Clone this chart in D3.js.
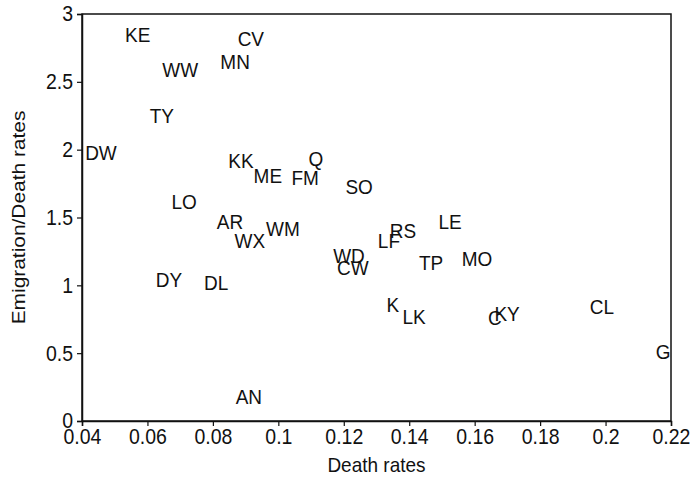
<!DOCTYPE html>
<html>
<head>
<meta charset="utf-8">
<script src="https://cdn.jsdelivr.net/npm/d3@7"></script>
<style>
  body { margin: 0; background: #fff; }
  svg text { font-family: "Liberation Sans", Arial, Helvetica, sans-serif; fill: #111; }
</style>
</head>
<body>
<script>
// labels and values
let labels = ["KE", "CV", "MN", "WW", "TY", "DW", "KK", "ME", "FM", "Q", "SO", "LO",
    "AR", "WX", "WM", "LE", "RS", "LF", "WD", "CW", "TP", "MO", "DY", "DL",
    "K", "LK", "C", "KY", "CL", "G", "AN"];
let deathRates = [0.057, 0.0916, 0.0868, 0.070, 0.0644, 0.0458, 0.0886, 0.0968, 0.1082, 0.1115, 0.1247, 0.0712,
    0.0852, 0.0913, 0.1014, 0.1525, 0.1381, 0.1338, 0.1216, 0.1228, 0.1467, 0.1607, 0.0666, 0.0810,
    0.1350, 0.1415, 0.1662, 0.1699, 0.1989, 0.2176, 0.0910];
let emigrationRatio = [2.85, 2.82, 2.65, 2.59, 2.25, 1.98, 1.92, 1.81, 1.79, 1.93, 1.73, 1.62,
    1.47, 1.33, 1.42, 1.47, 1.40, 1.33, 1.22, 1.13, 1.17, 1.20, 1.04, 1.02,
    0.86, 0.77, 0.76, 0.79, 0.84, 0.51, 0.18];
let xTicks = [0.04, 0.06, 0.08, 0.1, 0.12, 0.14, 0.16, 0.18, 0.2, 0.22];
let yTicks = [0, 0.5, 1, 1.5, 2, 2.5, 3];

let width = 691,
    height = 479,
    margins = {top: 14, right: 20, bottom: 58, left: 82},
    stretch = "scale(1, 1.1)"; // the scanned text is a little taller than wide

let data = labels.map((l, i) => ({label: l, x: deathRates[i], y: emigrationRatio[i]}));

let xScale = d3.scaleLinear([0.04, 0.22], [margins.left, width - margins.right]);
let yScale = d3.scaleLinear([0, 3], [height - margins.bottom, margins.top]);

let chart = d3.select("body").append("svg")
    .attr("width", width)
    .attr("height", height);

// frame
chart.append("rect")
    .attr("x", xScale(0.04))
    .attr("y", yScale(3))
    .attr("width", xScale(0.22) - xScale(0.04))
    .attr("height", yScale(0) - yScale(3))
    .attr("fill", "none")
    .attr("stroke", "#111")
    .attr("stroke-width", 1.5);

// axes
let xAxis = chart.append("g")
    .attr("transform", translate(0, yScale(0)))
    .call(d3.axisBottom(xScale).tickValues(xTicks).tickFormat(d3.format("~g")).tickSize(5).tickPadding(2));

let yAxis = chart.append("g")
    .attr("transform", translate(xScale(0.04), 0))
    .call(d3.axisLeft(yScale).tickValues(yTicks).tickFormat(d3.format("~g")).tickSize(5).tickPadding(4));

[xAxis, yAxis].forEach(a => {
    a.select(".domain").attr("stroke", "#111").attr("stroke-width", 1.5);
    a.selectAll(".tick line").attr("stroke", "#111").attr("stroke-width", 1.2);
    a.selectAll(".tick text")
        .attr("font-size", "19.5px")
        .attr("fill", "#111")
        .attr("transform", stretch);
});

// axis titles
chart.append("text")
    .attr("transform", translate((xScale(0.04) + xScale(0.22)) / 2, 472) + " " + stretch)
    .attr("text-anchor", "middle")
    .attr("font-size", "19px")
    .text("Death rates");

chart.append("text")
    .attr("transform", translate(25, (yScale(0) + yScale(3)) / 2) + " rotate(-90) scale(1.1, 1)")
    .attr("text-anchor", "middle")
    .attr("font-size", "19px")
    .text("Emigration/Death rates");

// point labels
chart.append("g")
    .selectAll("text")
    .data(data)
    .enter().append("text")
    .attr("transform", d => translate(xScale(d.x), yScale(d.y)) + " " + stretch)
    .attr("dy", "0.35em")
    .attr("text-anchor", "middle")
    .attr("font-size", "19px")
    .text(d => d.label);

function translate(x, y) {
    return `translate(${x}, ${y})`;
}
</script>
</body>
</html>
